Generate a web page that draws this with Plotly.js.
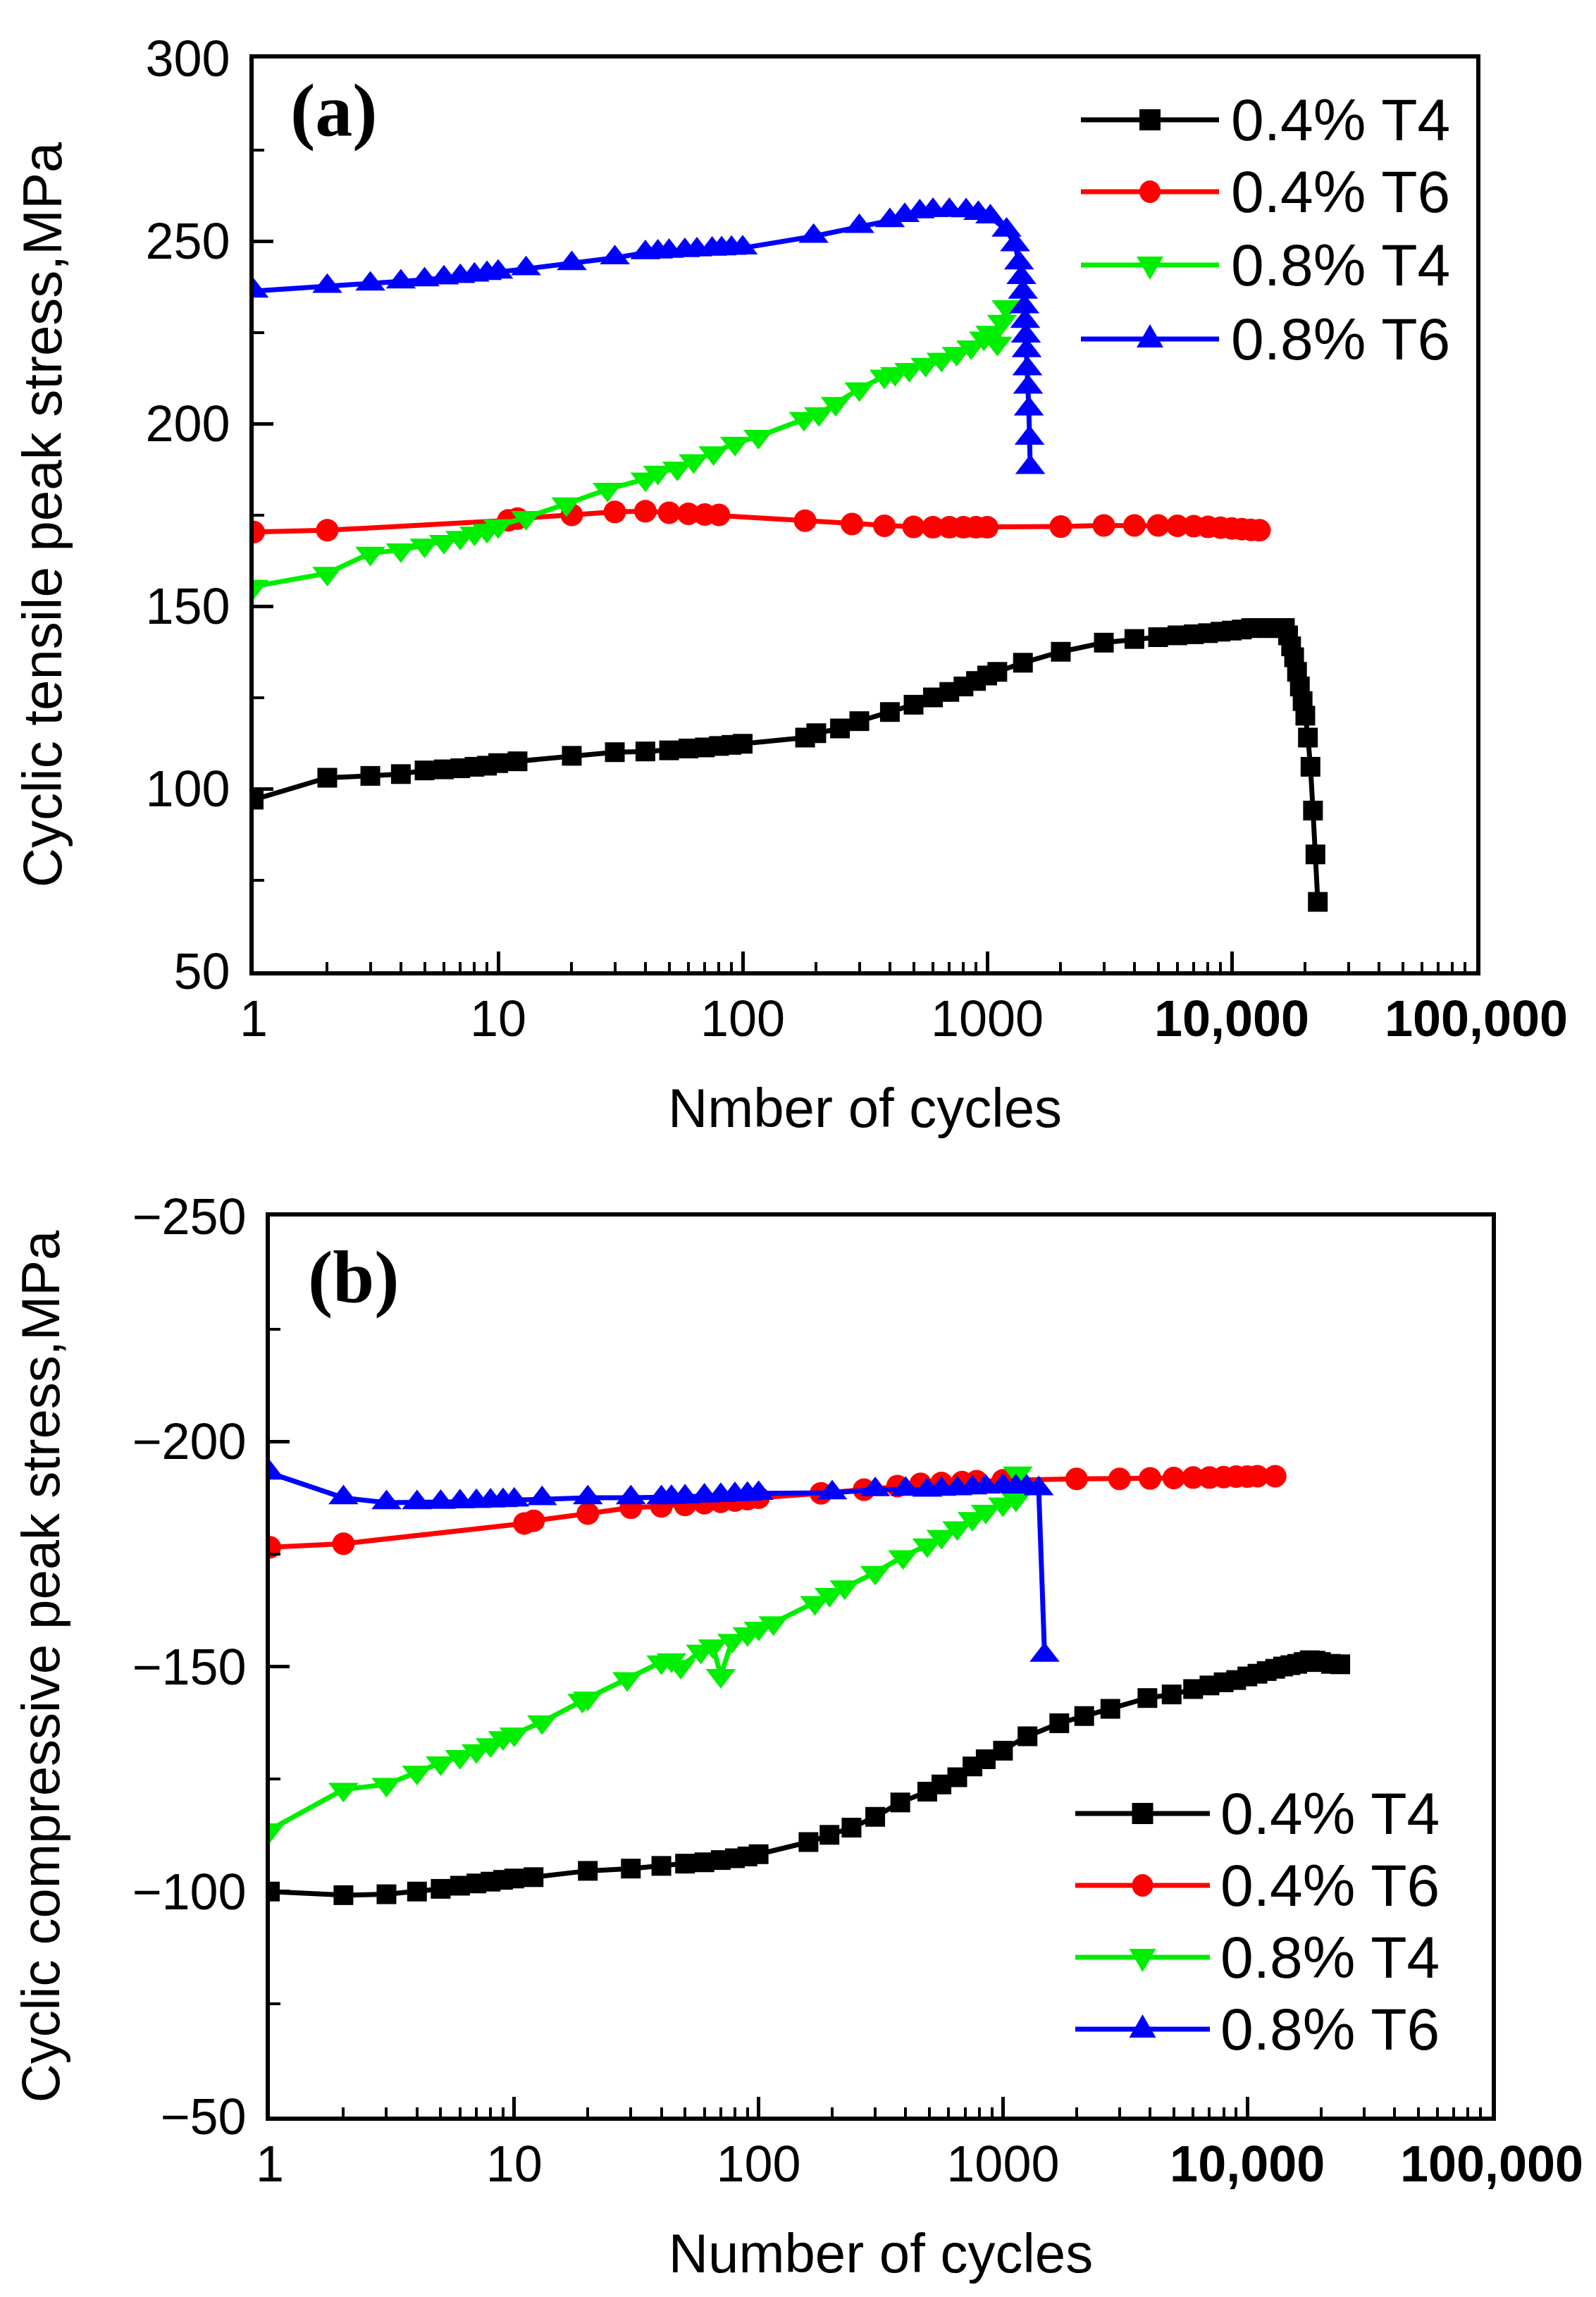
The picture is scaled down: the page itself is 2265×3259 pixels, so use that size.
<!DOCTYPE html>
<html>
<head>
<meta charset="utf-8">
<script src="https://cdn.plot.ly/plotly-3.0.1.min.js"></script>
<style>
  html, body { margin: 0; padding: 0; background: #fff; }
  #chart { width: 2265px; height: 3259px; }
</style>
</head>
<body>
<div id="chart"></div>
<script>
// (a) cyclic tensile peak stress, MPa
const aT4_04_n = [1,2,3,4,5,6,7,8,9,10,12,20,30,40,50,60,70,80,90,100,180,200,250,300,400,500,600,700,800,900,1000,1100,1400,2000,3000,4000,5000,6000,7000,8000,9000,10000,11000,12000,13000,14000,15000,16000,16500,17000,17500,18000,18500,19000,19500,20000,20500,21000,21500,22000,22500];
const aT4_04_v = [97,103,103.5,104,105,105.3,105.6,106,106.3,107,107.5,109,110,110.2,110.5,111,111.3,111.7,112,112.3,114,115.2,116.5,118.5,121,123,125,126.5,128,129.5,131,132,134.5,137.5,140,141,141.5,142,142.3,142.6,143,143.3,143.6,144,144,144,144,144,144,142,139,136,132,128,124,120,114,106,94,82,69];

const aT6_04_n = [1,2,11,12,20,30,40,50,60,70,80,180,280,380,500,600,700,800,900,1000,2000,3000,4000,5000,6000,7000,8000,9000,10000,11000,12000,13000];
const aT6_04_v = [170.3,170.8,173.5,174,175,175.8,176,175.6,175.3,175.1,175,173.4,172.5,172,171.7,171.6,171.6,171.6,171.6,171.6,171.8,172.1,172.1,172.1,172,171.9,171.7,171.5,171.3,171.1,170.9,170.8];

const aT4_08_n = [1,2,3,4,5,6,7,8,9,10,13,19,28,40,45,54,63,76,93,116,178,205,240,300,380,420,480,560,650,750,860,970,1030,1100,1150,1200];
const aT4_08_v = [155.4,159,164.5,165.4,166.7,167.7,168.8,170,170.7,172,174.3,178,182,184.8,186.7,187.8,189.8,192,194.6,196.5,201.4,202.7,205.5,209.5,213,213.7,214.8,216.2,217.6,219.2,221,223.4,225,222,228,232];

const aT6_08_n = [1,2,3,4,5,6,7,8,9,10,13,20,30,40,45,50,58,65,75,82,90,100,195,300,400,460,530,600,700,820,920,1030,1200,1300,1350,1380,1400,1420,1430,1440,1450,1460,1470,1480,1490,1500];
const aT6_08_v = [236.3,237.6,238.2,238.8,239.4,239.9,240.3,240.7,241.1,241.5,242.4,243.8,245.4,246.8,247,247.2,247.4,247.6,247.8,247.9,248,248.1,251.3,254,255.6,257,258,258.4,258.4,258.3,257.6,256.6,253,249,244,240,236,232,228,224,220,215,210,204,196,188];

// (b) cyclic compressive peak stress, MPa
const bT4_04_n = [1,2,3,4,5,6,7,8,9,10,12,20,30,40,50,60,70,80,90,100,160,195,240,300,380,490,560,650,750,850,1000,1260,1700,2150,2750,3900,4900,6000,7000,8000,9000,10000,11000,12000,13000,14000,15000,16000,17000,18000,19000,20000,22000,24000];
const bT4_04_v = [-100,-99.2,-99.4,-100,-100.6,-101.3,-101.8,-102.2,-102.6,-102.9,-103.2,-104.6,-105.1,-105.7,-106.2,-106.5,-107,-107.4,-107.8,-108.3,-111,-112.6,-114.2,-116.6,-119.8,-122.2,-123.8,-125.4,-127.8,-129.4,-131.3,-134.5,-137.4,-139,-140.6,-143,-143.8,-145,-145.8,-146.5,-147,-147.8,-148.4,-149,-149.5,-150,-150.3,-150.6,-151,-151.4,-151.3,-151,-150.6,-150.5];

const bT6_04_n = [1,2,11,12,20,30,40,50,60,70,80,90,100,180,270,370,460,560,680,780,1000,2000,3000,4000,5000,6000,7000,8000,9000,10000,11000,13000];
const bT6_04_v = [-176.5,-177.3,-181.8,-182.4,-184,-185.3,-185.6,-185.9,-186.3,-186.6,-186.9,-187.2,-187.5,-188.5,-189.3,-190.1,-190.6,-190.8,-191,-191.2,-191.4,-191.7,-191.7,-191.8,-191.9,-192,-192,-192.1,-192.2,-192.2,-192.3,-192.3];

const bT4_08_n = [1,2,3,4,5,6,7,8,9,10,13,19,20,29,40,44,48,58,65,70,78,90,100,115,170,195,225,300,390,490,560,650,750,850,1000,1130,1150];
const bT4_08_v = [-113.7,-122.7,-123.8,-126.5,-128.6,-130,-131.3,-132.6,-134.2,-135,-137.7,-142.5,-143,-147.3,-151,-151.5,-150,-153.4,-154.6,-148,-155.8,-157.3,-158.5,-159.7,-164.2,-166,-167.7,-170.9,-174.4,-177,-178.9,-180.8,-182.9,-184.5,-186.1,-187.2,-193];

const bT6_08_n = [1,2,3,4,5,6,7,8,9,10,13,20,30,40,44,50,60,70,80,90,100,200,300,400,490,560,650,750,850,1000,1130,1250,1400,1480];
const bT6_08_v = [-193,-187.5,-186.4,-186.4,-186.5,-186.6,-186.7,-186.8,-186.9,-187,-187.3,-187.5,-187.5,-187.5,-187.6,-187.7,-187.9,-188,-188.2,-188.3,-188.5,-188.6,-189.3,-189.4,-189.2,-189.4,-189.5,-189.7,-189.9,-190.1,-189.9,-189.9,-189.5,-152.5];

const names = ['0.4% T4', '0.4% T6', '0.8% T4', '0.8% T6'];
const colors = ['#000000', '#ff0000', '#00ee00', '#0000ff'];
const symbols = ['square', 'circle', 'triangle-down', 'triangle-up'];
const sizes = [28, 32, 37, 37];

const xTickVals = [1, 10, 100, 1000, 10000, 100000];
const xTickText = ['1', '10', '100', '1000', '<b>10,000</b>', '<b>100,000</b>'];

const W = 2265, H = 3259;
const FONT = 'Liberation Sans, Arial, Helvetica, sans-serif';
const SERIF = 'Liberation Serif, Times New Roman, serif';

function mk(n, v, i, ax) {
    return {
        x: n,
        y: v,
        name: names[i],
        type: 'scatter',
        mode: 'lines+markers',
        xaxis: ax[0],
        yaxis: ax[1],
        showlegend: false,
        line: { color: colors[i], width: 7 },
        marker: { symbol: symbols[i], size: sizes[i], color: colors[i] }
    };
}

const data = [
    mk(aT4_04_n, aT4_04_v, 0, ['x', 'y']),
    mk(aT6_04_n, aT6_04_v, 1, ['x', 'y']),
    mk(aT4_08_n, aT4_08_v, 2, ['x', 'y']),
    mk(aT6_08_n, aT6_08_v, 3, ['x', 'y']),
    mk(bT4_04_n, bT4_04_v, 0, ['x2', 'y2']),
    mk(bT6_04_n, bT6_04_v, 1, ['x2', 'y2']),
    mk(bT4_08_n, bT4_08_v, 2, ['x2', 'y2']),
    mk(bT6_08_n, bT6_08_v, 3, ['x2', 'y2']),
];

function xAxis(domain, anchor, title) {
    return {
        domain: domain,
        anchor: anchor,
        type: 'log',
        range: [0, 5],
        tickmode: 'array',
        tickvals: xTickVals,
        ticktext: xTickText,
        ticks: 'inside',
        ticklen: 28,
        tickwidth: 5,
        tickcolor: '#000',
        ticklabelstandoff: 0,
        minor: { dtick: 'D1', ticks: 'inside', ticklen: 13, tickwidth: 4, tickcolor: '#000' },
        showline: true,
        linewidth: 6,
        linecolor: '#000',
        mirror: true,
        showgrid: false,
        zeroline: false,
        tickfont: { family: FONT, size: 72, color: '#000' },
        title: { text: title, standoff: 62, font: { family: FONT, size: 78, color: '#000' } }
    };
}

function yAxis(domain, anchor, range, tickvals, title, tsize, standoff) {
    return {
        domain: domain,
        anchor: anchor,
        range: range,
        tickmode: 'array',
        tickvals: tickvals,
        ticks: 'inside',
        ticklen: 28,
        tickwidth: 5,
        tickcolor: '#000',
        ticklabelstandoff: 13,
        minor: { dtick: 25, ticks: 'inside', ticklen: 15, tickwidth: 4, tickcolor: '#000' },
        showline: true,
        linewidth: 6,
        linecolor: '#000',
        mirror: true,
        showgrid: false,
        zeroline: false,
        tickfont: { family: FONT, size: 72, color: '#000' },
        title: { text: title, standoff: standoff, font: { family: FONT, size: tsize, color: '#000' } }
    };
}

// legend drawn by hand so the symbols keep the size of the original
const shapes = [];
const annotations = [
    { text: '<b>(a)</b>', x: 474 / W, y: 1 - 157 / H, xref: 'paper', yref: 'paper',
      xanchor: 'center', yanchor: 'middle', showarrow: false,
      font: { family: SERIF, size: 106, color: '#000' } },
    { text: '<b>(b)</b>', x: 502 / W, y: 1 - 1812 / H, xref: 'paper', yref: 'paper',
      xanchor: 'center', yanchor: 'middle', showarrow: false,
      font: { family: SERIF, size: 106, color: '#000' } }
];

function legendSymbol(sym, cx, cy, color) {
    const px = (v) => v / W;
    const py = (v) => 1 - v / H;
    const base = { xref: 'paper', yref: 'paper', layer: 'above', fillcolor: color, line: { width: 0 } };
    if (sym === 'square') {
        return Object.assign(base, { type: 'rect', x0: px(cx - 15), x1: px(cx + 15), y0: py(cy - 15), y1: py(cy + 15) });
    }
    if (sym === 'circle') {
        return Object.assign(base, { type: 'circle', x0: px(cx - 15), x1: px(cx + 15), y0: py(cy - 16), y1: py(cy + 16) });
    }
    const d = sym === 'triangle-up' ? -1 : 1;
    const path = 'M' + px(cx - 19) + ',' + py(cy - d * 12) +
        'L' + px(cx + 19) + ',' + py(cy - d * 12) +
        'L' + px(cx) + ',' + py(cy + d * 21) + 'Z';
    return Object.assign(base, { type: 'path', path: path });
}

function addLegend(rows, lineX0, lineX1, textX) {
    rows.forEach((yp, i) => {
        shapes.push({
            type: 'line', xref: 'paper', yref: 'paper', layer: 'above',
            x0: lineX0 / W, x1: lineX1 / W, y0: 1 - yp / H, y1: 1 - yp / H,
            line: { color: colors[i], width: 7 }
        });
        shapes.push(legendSymbol(symbols[i], (lineX0 + lineX1) / 2, yp, colors[i]));
        annotations.push({
            text: names[i], x: textX / W, y: 1 - yp / H, xref: 'paper', yref: 'paper',
            xanchor: 'left', yanchor: 'middle', showarrow: false,
            font: { family: FONT, size: 84, color: '#000' }
        });
    });
}

addLegend([170, 272, 376, 481], 1534, 1730, 1745);
addLegend([2573, 2675, 2777, 2879], 1526, 1717, 1730);

const layout = {
    width: W,
    height: H,
    margin: { l: 0, r: 0, t: 0, b: 0 },
    paper_bgcolor: '#fff',
    plot_bgcolor: '#fff',
    showlegend: false,
    xaxis: xAxis([360 / W, 2095 / W], 'y', 'Nmber of cycles'),
    yaxis: yAxis([1 - 1378 / H, 1 - 83 / H], 'x', [50, 300], [50, 100, 150, 200, 250, 300],
        'Cyclic tensile peak stress,MPa', 78, 95),
    xaxis2: xAxis([383 / W, 2117 / W], 'y2', 'Number of cycles'),
    yaxis2: yAxis([1 - 3003 / H, 1 - 1726 / H], 'x2', [-50, -250], [-250, -200, -150, -100, -50],
        'Cyclic compressive peak stress,MPa', 76, 80),
    shapes: shapes,
    annotations: annotations
};

Plotly.newPlot('chart', data, layout, { staticPlot: true });
</script>
</body>
</html>
